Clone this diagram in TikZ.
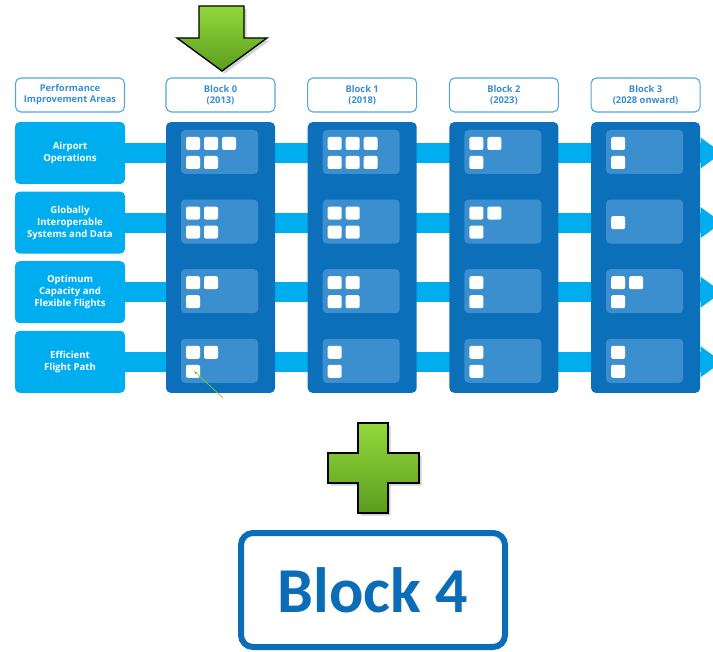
\documentclass[tikz,border=0pt]{standalone}
\usepackage{fontspec}
\setmainfont{Open Sans}
\newfontfamily\calfont{Carlito}
\usetikzlibrary{arrows.meta,shadows}

\definecolor{colblue}{HTML}{0B6FBA}
\definecolor{panelblue}{HTML}{3C8FCF}
\definecolor{areablue}{HTML}{00AEEF}
\definecolor{headline}{HTML}{4EA8DF}
\definecolor{headtext}{HTML}{3A8ECF}
\definecolor{blockblue}{HTML}{0B6DB7}
\definecolor{greenhi}{HTML}{93D83C}
\definecolor{greenlo}{HTML}{5C9C1E}
\definecolor{pointer}{HTML}{8CC63F}

\tikzset{
  head/.style={draw=headline, line width=0.8pt, fill=white, rounded corners=4pt,
    minimum width=81.75pt, minimum height=25.5pt, inner sep=0pt, align=center,
    text=headtext, font=\fontsize{7}{8.3}\selectfont\bfseries},
  area/.style={fill=areablue, rounded corners=3.5pt, minimum width=82.5pt,
    minimum height=46.5pt, inner sep=0pt, align=center, text=white,
    font=\fontsize{7.2}{9}\selectfont\bfseries},
  col/.style={fill=colblue, rounded corners=3.5pt, minimum width=81.75pt,
    minimum height=203pt, inner sep=0pt},
  bar/.style={draw=areablue, line width=15pt, -{Triangle[width=22pt,length=16pt]}},
  panel/.style={fill=panelblue, rounded corners=3pt},
  tile/.style={fill=white, rounded corners=1.5pt},
  bigarrow/.style={draw=black, line width=1pt, top color=greenhi, bottom color=greenlo,
    drop shadow={opacity=0.35, shadow xshift=2pt, shadow yshift=-2pt}},
  newblock/.style={draw=blockblue, line width=4.5pt, rounded corners=9pt, fill=white,
    minimum width=198pt, minimum height=85.5pt, inner sep=0pt, text=blockblue,
    font=\calfont\fontsize{48}{48}\selectfont\bfseries}
}

% tiles of one cell: column, row, list of i/j
\newcommand{\celltiles}[3]{%
  \fill[panel] ({166+141.7*#1+15},{122+69.6*#2+8}) rectangle ++(77,44);
  \foreach \i/\j in {#3}
    \fill[tile] ({166+141.7*#1+20+18*\i},{122+69.6*#2+15+19*\j}) rectangle ++(14,13);
}

\begin{document}
\begin{tikzpicture}[x=0.75pt,y=-0.75pt]
\useasboundingbox (0,0) rectangle (713,652);
\clip (0,0) rectangle (713,652);

% rows
\node[area] (a1) at (70,153) {Airport\\Operations};
\node[area] (a2) at (70,222.6) {Globally\\Interoperable\\Systems and Data};
\node[area] (a3) at (70,292.2) {Optimum\\Capacity and\\Flexible Flights};
\node[area] (a4) at (70,361.8) {Efficient\\Flight Path};

\coordinate (e1) at (722,153);
\coordinate (e2) at (722,222.6);
\coordinate (e3) at (722,292.2);
\coordinate (e4) at (722,361.8);

% bars
\foreach \k in {1,...,4}
  \draw[bar] (a\k.east) -- (e\k);

% blocks
\node[col] (b0) at (220.5,257.5) {};
\node[col] (b1) at (362.2,257.5) {};
\node[col] (b2) at (503.9,257.5) {};
\node[col] (b3) at (645.6,257.5) {};

\celltiles{0}{0}{0/0,1/0,2/0,0/1,1/1}
\celltiles{0}{1}{0/0,1/0,0/1,1/1}
\celltiles{0}{2}{0/0,1/0,0/1}
\celltiles{0}{3}{0/0,1/0,0/1}
\celltiles{1}{0}{0/0,1/0,2/0,0/1,1/1,2/1}
\celltiles{1}{1}{0/0,1/0,0/1,1/1}
\celltiles{1}{2}{0/0,1/0,0/1,1/1}
\celltiles{1}{3}{0/0,0/1}
\celltiles{2}{0}{0/0,1/0,0/1}
\celltiles{2}{1}{0/0,1/0,0/1}
\celltiles{2}{2}{0/0,0/1}
\celltiles{2}{3}{0/0,0/1}
\celltiles{3}{0}{0/0,0/1}
\celltiles{3}{1}{0/0.5}
\celltiles{3}{2}{0/0,1/0,0/1}
\celltiles{3}{3}{0/0,0/1}

% headers
\node[head] (h) at (70,95) {Performance\\Improvement Areas};
\node[head] (h0) at (220.5,95) {Block 0\\(2013)};
\node[head] (h1) at (362.2,95) {Block 1\\(2018)};
\node[head] (h2) at (503.9,95) {Block 2\\(2023)};
\node[head] (h3) at (645.6,95) {Block 3\\(2028 onward)};

% pointer
\coordinate (p0) at (223,398);
\coordinate (p1) at (194,371);
\draw[pointer, line width=0.5pt, -{Stealth[length=3pt]}] (p0) -- (p1);

% green arrow and plus
\path[bigarrow] (199,6) -- (244,6) -- (244,38) -- (267,38) -- (222,71)
  -- (177,38) -- (199,38) -- cycle;
\path[bigarrow] (358,423) -- (388,423) -- (388,453) -- (419,453) -- (419,483)
  -- (388,483) -- (388,513) -- (358,513) -- (358,483) -- (328,483) -- (328,453)
  -- (358,453) -- cycle;

% new block
\node[newblock] (b4) at (373,590) {Block 4};
\end{tikzpicture}
\end{document}
